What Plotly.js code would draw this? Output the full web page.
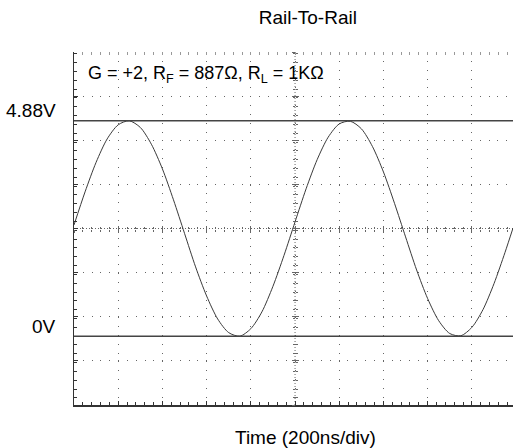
<!DOCTYPE html>
<html>
<head>
<meta charset="utf-8">
<script src="https://cdn.plot.ly/plotly-3.0.1.min.js"></script>
<style>html,body{margin:0;padding:0;background:#fff;overflow:hidden}</style>
</head>
<body>
<div id="chart" style="width:513px;height:448px"></div>
<script>
// Time axis (ns) and waveform samples (V)
const timeNs = [0,50,100,150,200,250,300,350,400,450,500,550,600,650,700,750,800,850,900,950,
  1000,1050,1100,1150,1200,1250,1300,1350,1400,1450,1500,1550,1600,1650,1700,1750,1800,1850,1900,1950,1986];
const voltage = [2.52,3.27,3.94,4.47,4.79,4.88,4.73,4.35,3.79,3.09,2.33,1.57,0.91,0.39,0.08,0.00,0.17,0.55,1.13,1.83,
  2.59,3.34,4.00,4.51,4.81,4.87,4.70,4.30,3.72,3.01,2.25,1.50,0.85,0.35,0.06,0.01,0.20,0.60,1.19,1.90,2.45];
// Reference levels
const levelValues = [4.88, 0];
const levelLabels = ["4.88V", "0V"];
// Scope graticule
const timePerDiv = 200;      // ns/div
const voltPerDiv = 1;        // V/div
const centerTime = 1000;     // ns
const centerVolt = 2.44;     // V
const xRange = [0, 1986];
const yRange = [centerVolt - 4, centerVolt + 4];
const titleText = "Rail-To-Rail";
const xTitle = "Time (200ns/div)";
const noteText = "G = +2, R<sub>F</sub> = 887Ω, R<sub>L</sub> = 1KΩ";

const FONT = "Liberation Sans, Arial, sans-serif";
const DARK = "#333";
const GRID = "#666";

const traces = [
  {type:"scatter", mode:"lines", x:timeNs, y:voltage, xaxis:"x", yaxis:"y",
   line:{color:"#3a3a3a", width:1, shape:"spline", smoothing:0.8}, hoverinfo:"skip", showlegend:false},
  {type:"scatter", x:[], y:[], xaxis:"x2", yaxis:"y", showlegend:false, hoverinfo:"skip"},
  {type:"scatter", x:[], y:[], xaxis:"x3", yaxis:"y", showlegend:false, hoverinfo:"skip"},
  {type:"scatter", x:[], y:[], xaxis:"x4", yaxis:"y", showlegend:false, hoverinfo:"skip"},
  {type:"scatter", x:[], y:[], xaxis:"x", yaxis:"y3", showlegend:false, hoverinfo:"skip"},
  {type:"scatter", x:[], y:[], xaxis:"x", yaxis:"y4", showlegend:false, hoverinfo:"skip"}
];

const minorX = {dtick: timePerDiv/5, ticks:"inside", ticklen:3, tickcolor:DARK, tickwidth:1, showgrid:false};
const minorY = {dtick: voltPerDiv/5, ticks:"inside", ticklen:3, tickcolor:DARK, tickwidth:1, showgrid:false};

function overlayX(extra){
  return Object.assign({overlaying:"x", range:xRange, tick0:0, dtick:timePerDiv, showgrid:false, zeroline:false,
    showticklabels:false, showline:false, ticklen:3, tickcolor:GRID, tickwidth:1,
    minor:{dtick:timePerDiv/5, ticklen:2, tickcolor:GRID, tickwidth:1, showgrid:false}}, extra);
}
function overlayY(extra){
  return Object.assign({overlaying:"y", range:yRange, tick0:centerVolt, dtick:voltPerDiv, showgrid:false, zeroline:false,
    showticklabels:false, showline:false, ticklen:3, tickcolor:GRID, tickwidth:1,
    minor:{dtick:voltPerDiv/5, ticklen:2, tickcolor:GRID, tickwidth:1, showgrid:false}}, extra);
}

const cx = (centerTime - xRange[0])/(xRange[1]-xRange[0]);

const shapes = levelValues.map(v => ({type:"line", xref:"paper", x0:0, x1:1, yref:"y", y0:v, y1:v,
  line:{color:"#444", width:1.5}}));
shapes.push({type:"line", xref:"x", x0:centerTime, x1:centerTime, yref:"paper", y0:0, y1:1,
  line:{color:GRID, width:1, dash:"1px,2px"}, layer:"below"});
shapes.push({type:"line", xref:"paper", x0:0, x1:1, yref:"y", y0:centerVolt, y1:centerVolt,
  line:{color:GRID, width:1, dash:"1px,2px"}, layer:"below"});

const annotations = levelValues.map((v,i) => ({xref:"paper", x:0, xanchor:"right", xshift:-16,
  yref:"y", y:v, yanchor:"middle", yshift:10, text:levelLabels[i], showarrow:false,
  font:{family:FONT, size:19, color:"#000"}}));
annotations.push({xref:"paper", x:0, xanchor:"left", xshift:12, yref:"paper", y:0.935, yanchor:"middle",
  text:noteText, showarrow:false, font:{family:FONT, size:18, color:"#000"}});
annotations.push({xref:"paper", x:0.528, xanchor:"center", yref:"paper", y:0, yanchor:"middle", yshift:-32,
  text:xTitle, showarrow:false, font:{family:FONT, size:19, color:"#000"}});

const layout = {
  width:513, height:448,
  margin:{l:74, r:0, t:52, b:43},
  paper_bgcolor:"#fff", plot_bgcolor:"#fff",
  font:{family:FONT, color:"#000"},
  title:{text:titleText, font:{family:FONT, size:19, color:"#000"}, x:0.6, xanchor:"center", y:0.962, yanchor:"middle"},
  showlegend:false,
  xaxis:{range:xRange, tick0:0, dtick:timePerDiv, showgrid:true, gridcolor:GRID, gridwidth:1, griddash:"1px,7.84px",
    zeroline:false, showticklabels:false, showline:true, linecolor:DARK, linewidth:1.5,
    ticks:"inside", ticklen:4, tickcolor:DARK, tickwidth:1, minor:minorX},
  yaxis:{range:yRange, tick0:centerVolt, dtick:voltPerDiv, showgrid:true, gridcolor:GRID, gridwidth:1, griddash:"1px,7.82px",
    zeroline:false, showticklabels:false, showline:true, linecolor:DARK, linewidth:1.5,
    ticks:"inside", ticklen:4, tickcolor:DARK, tickwidth:1, minor:minorY},
  xaxis2: overlayX({side:"top", ticks:"inside", tickcolor:"#999", minor:{dtick:timePerDiv/5, ticks:"inside", ticklen:3, tickcolor:"#999", showgrid:false}}),
  xaxis3: overlayX({anchor:"free", position:0.5, ticks:"outside", minor:{dtick:timePerDiv/5, ticks:"outside", ticklen:2, tickcolor:GRID, showgrid:false}}),
  xaxis4: overlayX({anchor:"free", position:0.5, ticks:"inside", minor:{dtick:timePerDiv/5, ticks:"inside", ticklen:2, tickcolor:GRID, showgrid:false}}),
  yaxis3: overlayY({anchor:"free", position:cx, ticks:"outside", minor:{dtick:voltPerDiv/5, ticks:"outside", ticklen:2, tickcolor:GRID, showgrid:false}}),
  yaxis4: overlayY({anchor:"free", position:cx, ticks:"inside", minor:{dtick:voltPerDiv/5, ticks:"inside", ticklen:2, tickcolor:GRID, showgrid:false}}),
  shapes:shapes,
  annotations:annotations
};

Plotly.newPlot("chart", traces, layout, {staticPlot:true, displayModeBar:false});
</script>
</body>
</html>
